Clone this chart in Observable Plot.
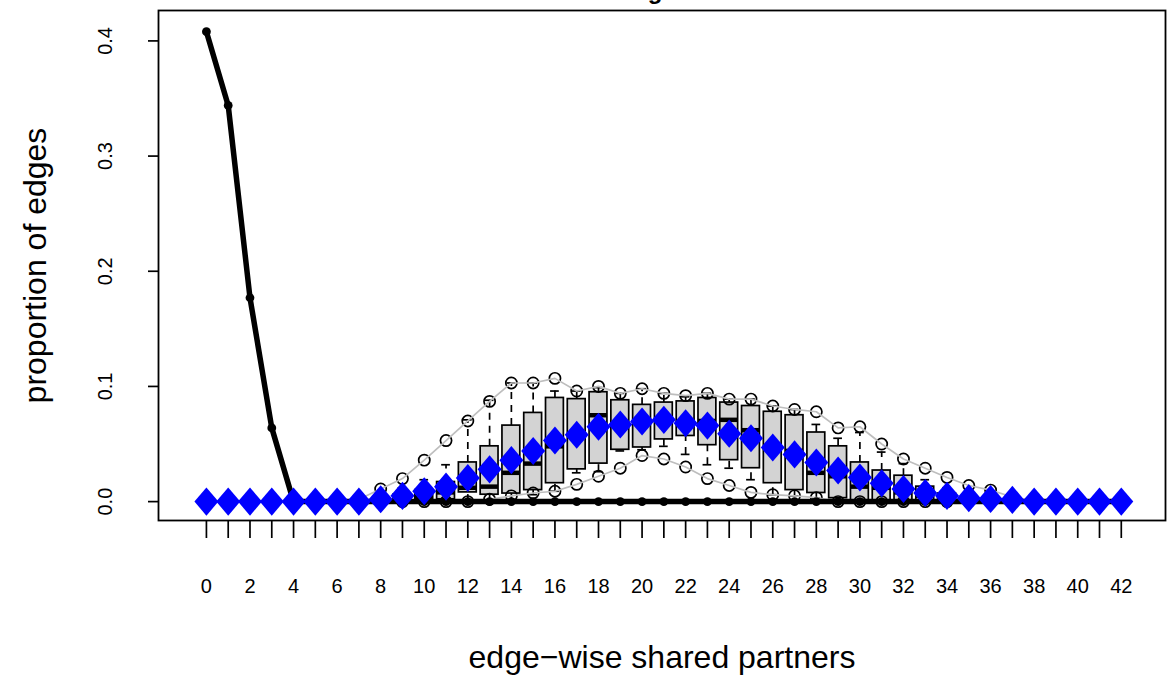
<!DOCTYPE html>
<html>
<head>
<meta charset="utf-8">
<script src="https://cdn.jsdelivr.net/npm/d3@7"></script>
<script src="https://cdn.jsdelivr.net/npm/@observablehq/plot@0.6"></script>
<style>
  html, body { margin: 0; padding: 0; background: white; }
  #chart { width: 1172px; height: 677px; overflow: hidden; }
</style>
</head>
<body>
<div id="chart"></div>
<script>
// ---- data ----
const categories = d3.range(0, 43); // edge-wise shared partners 0..42
const observed = [0.408, 0.344, 0.177, 0.064, 0, 0, 0, 0, 0, 0, 0, 0, 0, 0, 0, 0, 0, 0, 0, 0, 0, 0,
  0, 0, 0, 0, 0, 0, 0, 0, 0, 0, 0, 0, 0, 0, 0, 0, 0, 0, 0, 0, 0];
const simMean = [0, 0, 0, 0, 0, 0, 0, 0, 0.002, 0.005, 0.009, 0.013, 0.0205, 0.028, 0.036, 0.044,
  0.053, 0.058, 0.065, 0.067, 0.0695, 0.071, 0.068, 0.066, 0.059, 0.055, 0.047, 0.041, 0.034,
  0.027, 0.021, 0.016, 0.011, 0.0075, 0.005, 0.003, 0.0022, 0.0015, 0, 0, 0, 0, 0];
const upperQ = [0, 0, 0, 0, 0, 0, 0, 0.002, 0.011, 0.020, 0.036, 0.053, 0.070, 0.087, 0.103, 0.103,
  0.107, 0.096, 0.100, 0.094, 0.098, 0.094, 0.092, 0.094, 0.089, 0.089, 0.083, 0.080, 0.078,
  0.064, 0.065, 0.050, 0.037, 0.029, 0.021, 0.014, 0.010, 0.004, 0, 0, 0, 0, 0];
const lowerQ = [0, 0, 0, 0, 0, 0, 0, 0, 0, 0, 0, 0, 0, 0.002, 0.005, 0.0075, 0.009, 0.015, 0.022,
  0.029, 0.040, 0.037, 0.030, 0.020, 0.014, 0.008, 0.006, 0.005, 0.0035, 0, 0, 0, 0, 0, 0, 0, 0,
  0, 0, 0, 0, 0, 0];
const boxQ1 = [0, 0, 0, 0, 0, 0, 0, 0, 0, 0, 0, 0.002, 0.008, 0.006, 0.007, 0.010, 0.016, 0.028,
  0.033, 0.045, 0.047, 0.054, 0.057, 0.049, 0.036, 0.029, 0.016, 0.010, 0.0075, 0.003, 0.001, 0,
  0, 0, 0, 0, 0, 0, 0, 0, 0, 0, 0];
const boxMedian = [0, 0, 0, 0, 0, 0, 0, 0, 0, 0, 0.004, 0.008, 0.012, 0.013, 0.025, 0.033, 0.048,
  0.058, 0.075, 0.067, 0.070, 0.071, 0.068, 0.070, 0.071, 0.062, 0.047, 0.044, 0.025, 0.022,
  0.013, 0.012, 0.008, 0.005, 0, 0, 0, 0, 0, 0, 0, 0, 0];
const boxQ3 = [0, 0, 0, 0, 0, 0, 0, 0, 0, 0.006, 0.010, 0.017, 0.034, 0.048, 0.066, 0.077, 0.090,
  0.089, 0.095, 0.088, 0.084, 0.086, 0.087, 0.090, 0.086, 0.083, 0.078, 0.075, 0.060, 0.048,
  0.034, 0.027, 0.0225, 0.013, 0.007, 0, 0, 0, 0, 0, 0, 0, 0];
const whiskerLo = [0, 0, 0, 0, 0, 0, 0, 0, 0, 0, 0, 0, 0, 0, 0.002, 0.006, 0.009, 0.025, 0.026,
  0.044, 0.045, 0.048, 0.041, 0.032, 0.029, 0.019, 0.006, 0.005, 0.003, 0, 0, 0, 0, 0, 0, 0, 0,
  0, 0, 0, 0, 0, 0];
const whiskerHi = [0, 0, 0, 0, 0, 0, 0, 0, 0.004, 0.012, 0.019, 0.032, 0.071, 0.088, 0.103, 0.103,
  0.096, 0.096, 0.099, 0.094, 0.098, 0.094, 0.091, 0.094, 0.089, 0.089, 0.083, 0.080, 0.067,
  0.055, 0.060, 0.043, 0.033, 0.019, 0.012, 0.004, 0, 0, 0, 0, 0, 0, 0];
const xTickLabels = d3.range(0, 43, 2);
const yTicks = [0, 0.1, 0.2, 0.3, 0.4];
const xTitle = "edge\u2212wise shared partners";
const yTitle = "proportion of edges";
const mainTitle = "Goodness-of-fit diagnostics";

// ---- tables built from the arrays ----
const rows = categories.map((k, i) => ({
  k, obs: observed[i], mean: simMean[i], up: upperQ[i], low: lowerQ[i],
  q1: boxQ1[i], med: boxMedian[i], q3: boxQ3[i], lo: whiskerLo[i], hi: whiskerHi[i]
}));

const BOX_HALF = 0.41, CAP_HALF = 0.2;
const LW = 1.7;
const font = "'Liberation Sans', Arial, Helvetica, sans-serif";

// R pch 18 style diamond
const diamond = {
  draw(ctx, size) {
    const r = Math.sqrt(size / Math.PI);
    const w = r, h = r * 1.17;
    ctx.moveTo(0, -h); ctx.lineTo(w, 0); ctx.lineTo(0, h); ctx.lineTo(-w, 0); ctx.closePath();
  }
};

const chart = Plot.plot({
  width: 1172,
  height: 677,
  marginLeft: 158,
  marginRight: 7,
  marginTop: 10,
  marginBottom: 157,
  style: { background: "white", fontFamily: font, color: "black", overflow: "visible" },
  x: { domain: [-2.2, 44.03], label: null },
  y: { domain: [-0.0164, 0.4264], label: null },
  marks: [
    // boxplots of simulated statistics
    Plot.ruleX(rows, { x: "k", y1: "q3", y2: "hi", stroke: "black", strokeWidth: LW, strokeDasharray: "7,6" }),
    Plot.ruleX(rows, { x: "k", y1: "lo", y2: "q1", stroke: "black", strokeWidth: LW, strokeDasharray: "7,6" }),
    Plot.ruleY(rows, { y: "hi", x1: d => d.k - CAP_HALF, x2: d => d.k + CAP_HALF, stroke: "black", strokeWidth: LW }),
    Plot.ruleY(rows, { y: "lo", x1: d => d.k - CAP_HALF, x2: d => d.k + CAP_HALF, stroke: "black", strokeWidth: LW }),
    Plot.rect(rows, { x1: d => d.k - BOX_HALF, x2: d => d.k + BOX_HALF, y1: "q1", y2: "q3", fill: "#D3D3D3", stroke: "black", strokeWidth: LW }),
    Plot.ruleY(rows, { y: "med", x1: d => d.k - BOX_HALF, x2: d => d.k + BOX_HALF, stroke: "black", strokeWidth: 4.5 }),
    // quantile bounds
    Plot.dot(rows, { x: "k", y: "up", r: 5.6, stroke: "black", strokeWidth: LW, fill: "none" }),
    Plot.dot(rows, { x: "k", y: "low", r: 5.6, stroke: "black", strokeWidth: LW, fill: "none" }),
    Plot.line(rows, { x: "k", y: "up", stroke: "#BEBEBE", strokeWidth: 1.7 }),
    Plot.line(rows, { x: "k", y: "low", stroke: "#BEBEBE", strokeWidth: 1.7 }),
    // observed
    Plot.dot(rows, { x: "k", y: "obs", r: 4.4, fill: "black" }),
    Plot.line(rows, { x: "k", y: "obs", stroke: "black", strokeWidth: 5.5, strokeLinejoin: "round" }),
    // simulated mean
    Plot.dot(rows, { x: "k", y: "mean", r: 12, symbol: diamond, fill: "#0000FF", stroke: "none" }),
    // frame
    Plot.frame({ stroke: "black", strokeWidth: 1.8 }),
    // axes: ticks
    Plot.axisX({ ticks: categories, tickSize: 18, tickFormat: () => "", strokeWidth: LW }),
    Plot.axisY({ ticks: yTicks, tickSize: 10, tickFormat: () => "", strokeWidth: LW }),
    // axes: labels
    Plot.text(xTickLabels, { x: d => d, text: d => String(d), frameAnchor: "bottom", dy: 66, lineAnchor: "middle", textAnchor: "middle", fontSize: 20, fill: "black" }),
    Plot.text(yTicks, { y: d => d, text: d => d.toFixed(1), frameAnchor: "left", dx: -53, rotate: -90, lineAnchor: "middle", textAnchor: "middle", fontSize: 20, fill: "black" }),
    // titles
    Plot.text([xTitle], { text: d => d, frameAnchor: "bottom", dy: 137, lineAnchor: "middle", textAnchor: "middle", fontSize: 32, fill: "black" }),
    Plot.text([yTitle], { text: d => d, frameAnchor: "left", dx: -123, rotate: -90, lineAnchor: "middle", textAnchor: "middle", fontSize: 32, fill: "black" }),
    Plot.text([mainTitle], { text: d => d, frameAnchor: "top", dx: -75, dy: -12, lineAnchor: "bottom", textAnchor: "middle", fontSize: 24, fontWeight: "bold", fill: "black" })
  ]
});

document.getElementById("chart").appendChild(chart);
</script>
</body>
</html>
